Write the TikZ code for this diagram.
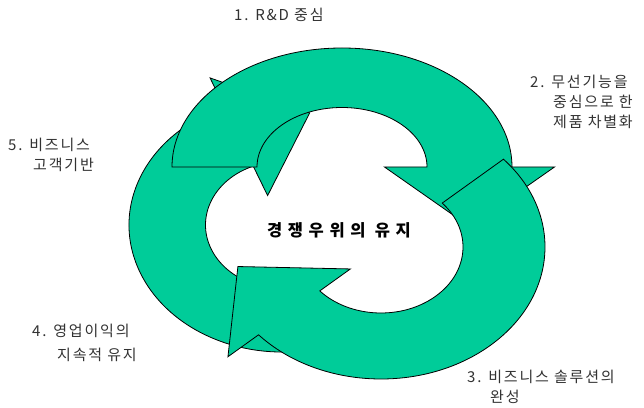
\documentclass[tikz,border=0pt]{standalone}
\usepackage{fontspec}
\newfontfamily\kr{Noto Sans CJK KR}
\newfontfamily\krwide[LetterSpace=12]{Noto Sans CJK KR}
\newfontfamily\krcentre[LetterSpace=34]{Noto Sans CJK KR}
\usetikzlibrary{calc}
\definecolor{arrowgreen}{RGB}{0,204,153}
\definecolor{labelgray}{RGB}{50,50,50}
\tikzset{
  arrowbody/.style={fill=arrowgreen, draw=black, line width=0.8pt, line join=miter},
  steplabel/.style={anchor=base west, inner sep=0pt, text=labelgray, font=\krwide\fontsize{15}{18}\selectfont},
  centrelabel/.style={anchor=center, inner sep=0pt, text=black, font=\krcentre\bfseries\fontsize{16.5}{18}\selectfont}
}
% #1 cx, #2 cy, #3 outer x radius, #4 outer y radius, #5 tail angle, #6 tip factor
\newcommand\cycarrow[6]{%
  \pgfmathsetmacro\tA{#5}%
  \pgfmathsetmacro\tB{#5-180}%
  \pgfmathsetmacro\ai{#3/2}%
  \pgfmathsetmacro\bi{#4/2}%
  \filldraw[arrowbody] ({#1+#3*cos(\tA)},{#2+#4*sin(\tA)})
    arc[start angle=\tA, end angle=\tB, x radius=#3, y radius=#4]
    -- ({#1+1.25*#3*cos(\tB)},{#2+1.25*#4*sin(\tB)})
    -- ({#1+0.75*#3*cos(\tB)+#6*#3*sin(\tB)},{#2+0.75*#4*sin(\tB)-#6*#4*cos(\tB)})
    -- ({#1+0.25*#3*cos(\tB)},{#2+0.25*#4*sin(\tB)})
    -- ({#1+0.5*#3*cos(\tB)},{#2+0.5*#4*sin(\tB)})
    arc[start angle=\tB, end angle=\tA, x radius=\ai, y radius=\bi]
    -- cycle;
}
\begin{document}
\begin{tikzpicture}[x=1pt,y=1pt]
\useasboundingbox (0,0) rectangle (644,407);
\fill[white] (0,0) rectangle (644,407);
% left arrow (5 -> 1)
\cycarrow{282}{182}{153}{127}{292.1}{0.5}
% top arrow (1 -> 2)
\cycarrow{342}{240}{170}{119}{180}{0.5}
% right/bottom arrow (2/3 -> 4)
\cycarrow{381}{160}{164}{132}{41.7}{0.47}

\node[centrelabel] (centre) at (339,177) {경쟁우위의 유지};

\node[steplabel] (s1) at (234,386) {1. R\&D 중심};
\node[steplabel] (s2a) at (530,319) {2. 무선기능을};
\node[steplabel] (s2b) at (553,299) {중심으로 한};
\node[steplabel] (s2c) at (553,279) {제품 차별화};
\node[steplabel] (s3a) at (467,25) {3. 비즈니스 솔루션의};
\node[steplabel] (s3b) at (490,5) {완성};
\node[steplabel] (s4a) at (32,71) {4. 영업이익의};
\node[steplabel] (s4b) at (57,47) {지속적 유지};
\node[steplabel] (s5a) at (8,256) {5. 비즈니스};
\node[steplabel] (s5b) at (33,236) {고객기반};
\end{tikzpicture}
\end{document}
